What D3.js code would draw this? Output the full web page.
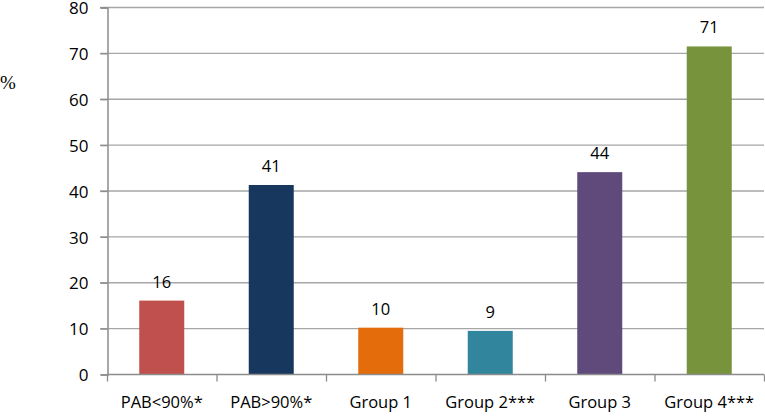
<!DOCTYPE html>
<html>
<head>
<meta charset="utf-8">
<script src="https://cdn.jsdelivr.net/npm/d3@7"></script>
<style>
  body { margin: 0; background: #fff; }
  svg { display: block; }
  text { font-family: "Open Sans", Lato, sans-serif; fill: #000; }
</style>
</head>
<body>
<svg id="chart" width="765" height="418"></svg>
<script>
var categories = ['PAB<90%*', 'PAB>90%*', 'Group 1', 'Group 2***', 'Group 3', 'Group 4***']
var values = [16, 41.2, 10.1, 9.4, 44, 71.4]
var colors = ['#c0504d', '#17375e', '#e46c0a', '#31859c', '#604a7b', '#77933c']
var yTicks = [0, 10, 20, 30, 40, 50, 60, 70, 80]

var svg = d3.select('#chart')
  , plotLeft = 107, plotRight = 764, plotTop = 7, plotBottom = 374

var x = d3.scaleBand().domain(categories).range([plotLeft, plotRight]).paddingInner(0).paddingOuter(0)
var y = d3.scaleLinear().domain([0, 80]).range([plotBottom, plotTop])
var barW = 45

// gridlines
svg.append('g').selectAll('line').data(yTicks.slice(1))
  .enter().append('line')
  .attr('x1', plotLeft - 7).attr('x2', plotRight)
  .attr('y1', function(d) { return y(d) + 0.5 }).attr('y2', function(d) { return y(d) + 0.5 })
  .attr('stroke', '#a6a6a6').attr('stroke-width', 1.3)

// y axis
var yAxis = svg.append('g').attr('transform', 'translate(' + (plotLeft + 0.5) + ',0.5)')
  .call(d3.axisLeft(y).tickValues(yTicks).tickSize(7).tickPadding(12))
yAxis.select('.domain').attr('stroke', '#8c8c8c').attr('stroke-width', 1.5)
yAxis.selectAll('.tick line').attr('stroke', '#8c8c8c').attr('stroke-width', 1.3)
yAxis.selectAll('text').style('font-size', '17px').attr('dy', '0.36em')

// bars
svg.append('g').selectAll('rect').data(values)
  .enter().append('rect')
  .attr('x', function(d, i) { return x(categories[i]) + x.bandwidth() / 2 - barW / 2 })
  .attr('y', function(d) { return y(d) })
  .attr('width', barW)
  .attr('height', function(d) { return y(0) - y(d) })
  .attr('fill', function(d, i) { return colors[i] })

// value labels
var fmt = d3.format('.0f')
svg.append('g').selectAll('text').data(values)
  .enter().append('text')
  .attr('x', function(d, i) { return x(categories[i]) + x.bandwidth() / 2 })
  .attr('y', function(d) { return y(d) - 13 })
  .attr('text-anchor', 'middle')
  .style('font-size', '16.5px')
  .text(function(d) { return fmt(d) })

// x axis
var xAxis = svg.append('g').attr('transform', 'translate(0,' + (plotBottom + 0.5) + ')')
  .call(d3.axisBottom(x).tickSize(0).tickPadding(22))
xAxis.select('.domain').remove()
xAxis.selectAll('text').style('font-size', '16.5px')
xAxis.append('line').attr('x1', plotLeft).attr('x2', plotRight).attr('stroke', '#8c8c8c').attr('stroke-width', 1.5)
xAxis.selectAll('line.sep').data(d3.range(categories.length + 1))
  .enter().append('line').attr('class', 'sep')
  .attr('x1', function(i) { return plotLeft + i * x.bandwidth() + 0.5 })
  .attr('x2', function(i) { return plotLeft + i * x.bandwidth() + 0.5 })
  .attr('y1', 0).attr('y2', 7)
  .attr('stroke', '#8c8c8c').attr('stroke-width', 1.3)

// y title
svg.append('text').attr('x', 0).attr('y', 89)
  .style('font-family', '"Liberation Serif", serif').style('font-size', '19px')
  .text('%')
</script>
</body>
</html>
